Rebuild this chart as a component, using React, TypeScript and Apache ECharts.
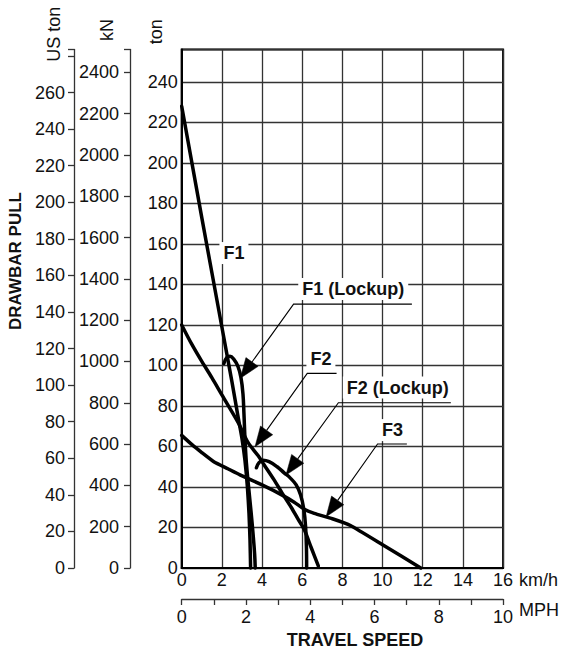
import React, { useEffect, useRef } from 'react';
import * as echarts from 'echarts';

// ---- data (travel speed km/h, drawbar pull ton) ----
const speedTicksKmh = [0, 2, 4, 6, 8, 10, 12, 14, 16];
const pullTicksTon = [0, 20, 40, 60, 80, 100, 120, 140, 160, 180, 200, 220, 240];

const f1 = [
  [0, 228], [1.0, 173], [2.0, 119], [2.5, 92], [2.8, 75], [3.0, 64],
  [3.15, 53], [3.27, 40], [3.35, 27], [3.4, 14], [3.43, 0],
];
const f1Lockup = [
  [2.1, 101], [2.25, 104], [2.4, 104.5], [2.6, 103], [2.8, 99.5], [2.95, 94],
  [3.05, 86], [3.1, 76], [3.15, 64], [3.22, 52], [3.33, 40], [3.45, 28],
  [3.56, 16], [3.63, 7], [3.66, 0],
];
const f2 = [
  [0, 120], [0.5, 110.5], [1.0, 102], [1.5, 94], [2.0, 85.5], [2.8, 72],
  [3.3, 62], [3.8, 55.5], [4.1, 51], [4.6, 43.5], [5.0, 37], [5.45, 30],
  [5.8, 24], [6.1, 19], [6.45, 10], [6.8, 1],
];
const f2Lockup = [
  [3.72, 49.5], [3.85, 52], [4.05, 53.2], [4.35, 52.5], [4.75, 50], [5.1, 47],
  [5.4, 44.5], [5.7, 41], [5.92, 36], [6.08, 29], [6.17, 20], [6.21, 10], [6.22, 0],
];
const f3 = [
  [0, 65.5], [0.5, 61], [1.0, 57], [1.6, 52.5], [2.3, 49], [2.9, 46],
  [4.0, 41], [5.0, 36], [5.6, 32.5], [6.1, 29], [6.6, 27], [7.5, 24.3],
  [8.4, 21], [10, 11.5], [11.9, 0],
];

const curveNames = ['F1', 'F1 (Lockup)', 'F2', 'F2 (Lockup)', 'F3'];
const curves = [f1, f1Lockup, f2, f2Lockup, f3];
const curveSmooth = [0.2, 0.4, 0.3, 0.4, 0.15];

// annotation labels (data coordinates)
const labelNames = ['F1', 'F1 (Lockup)', 'F2', 'F2 (Lockup)', 'F3'];
const labelPos = [[2.6, 155.5], [8.54, 137.7], [6.93, 103.4], [10.76, 89.1], [10.49, 68.1]];
// underline: [xLeft, xRight, y]
const labelUnderline = [null, [5.57, 11.46, 130.3], [6.25, 7.71, 96.1], [7.8, 13.4, 81.6], [9.75, 11.21, 61.2]];
const labelTip = [null, [2.92, 93.7], [3.65, 59.9], [5.19, 45.9], [7.19, 25.3]];

// unit conversions / secondary scales
const TON_TO_KN = 9.80665;
const TON_TO_USTON = 1.1075; // as drawn on the printed scale
const MPH_AXIS_MAX = 10;

const FONT = '"Liberation Sans", Arial, Helvetica, sans-serif';

export default function App() {
  const ref = useRef<HTMLDivElement>(null);
  useEffect(() => {
    if (!ref.current) return;
    const chart = echarts.init(ref.current, undefined, { renderer: 'svg' });
    const tonMax = 256;
    const gridColor = '#333';
    const textColor = '#111';

    const option: any = {
      animation: false,
      backgroundColor: '#fff',
      grid: {
        left: 181.7,
        right: 52,
        top: 49.5,
        bottom: 81,
        show: true,
        borderColor: '#000',
        borderWidth: 2,
      },
      xAxis: [
        {
          type: 'value',
          min: speedTicksKmh[0],
          max: speedTicksKmh[speedTicksKmh.length - 1],
          interval: 2,
          position: 'bottom',
          axisLine: { show: true, onZero: false, lineStyle: { color: '#000', width: 2 } },
          axisTick: { show: false },
          splitLine: { show: true, lineStyle: { color: gridColor, width: 1.3 } },
          axisLabel: { fontSize: 18, fontFamily: FONT, color: textColor, margin: 3 },
          name: 'km/h',
          nameLocation: 'end',
          nameGap: 6,
          nameTextStyle: {
            fontSize: 18, fontFamily: FONT, color: textColor,
            verticalAlign: 'top', lineHeight: 24,
          },
        },
        {
          type: 'value',
          min: 0,
          max: MPH_AXIS_MAX,
          interval: 1,
          position: 'bottom',
          offset: 31,
          axisLine: { show: true, onZero: false, lineStyle: { color: '#333', width: 1.3 } },
          axisTick: { show: true, length: 6, lineStyle: { color: '#333', width: 1.3 } },
          splitLine: { show: false },
          axisLabel: {
            fontSize: 18, fontFamily: FONT, color: textColor, margin: 9,
            formatter: (v: number) => (v % 2 === 0 ? String(v) : ''),
          },
          name: 'MPH',
          nameLocation: 'end',
          nameGap: 7,
          nameTextStyle: {
            fontSize: 18, fontFamily: FONT, color: textColor,
            verticalAlign: 'top', lineHeight: 21,
          },
        },
      ],
      yAxis: [
        {
          type: 'value',
          min: 0,
          max: tonMax,
          interval: 20,
          position: 'left',
          axisLine: { show: true, onZero: false, lineStyle: { color: '#000', width: 2 } },
          axisTick: { show: false },
          splitLine: { show: true, lineStyle: { color: gridColor, width: 1.3 } },
          axisLabel: {
            fontSize: 18, fontFamily: FONT, color: textColor, margin: 4,
            formatter: (v: number) => (pullTicksTon.includes(v) ? String(v) : ''),
          },
        },
        {
          type: 'value',
          min: 0,
          max: tonMax * TON_TO_KN,
          interval: 200,
          position: 'left',
          offset: 51.7,
          axisLine: { show: true, onZero: false, lineStyle: { color: '#333', width: 1.3 } },
          axisTick: { show: true, length: 6, lineStyle: { color: '#333', width: 1.3 } },
          splitLine: { show: false },
          axisLabel: {
            fontSize: 18, fontFamily: FONT, color: textColor, margin: 11,
            formatter: (v: number) => (v % 200 === 0 && v <= 2400 ? String(v) : ''),
          },
        },
        {
          type: 'value',
          min: 0,
          max: tonMax * TON_TO_USTON,
          interval: 20,
          position: 'left',
          offset: 107.7,
          axisLine: { show: true, onZero: false, lineStyle: { color: '#333', width: 1.3 } },
          axisTick: { show: true, length: 6, lineStyle: { color: '#333', width: 1.3 } },
          splitLine: { show: false },
          axisLabel: {
            fontSize: 18, fontFamily: FONT, color: textColor, margin: 9,
            formatter: (v: number) => (v % 20 === 0 && v <= 260 ? String(v) : ''),
          },
        },
      ],
      series: [
        ...curves.map((d, i) => ({
          name: curveNames[i],
          type: 'line',
          xAxisIndex: 0,
          yAxisIndex: 0,
          data: d,
          smooth: curveSmooth[i],
          symbol: 'none',
          clip: false,
          lineStyle: { color: '#000', width: 3.5, cap: 'round', join: 'round' },
          z: 5,
        })),
        {
          type: 'custom',
          name: 'labels',
          xAxisIndex: 0,
          yAxisIndex: 0,
          coordinateSystem: 'cartesian2d',
          clip: false,
          silent: true,
          z: 10,
          data: labelPos.map((p) => [p[0], p[1]]),
          encode: { x: 0, y: 1 },
          renderItem: (params: any, api: any) => {
            const i = params.dataIndex;
            const c = api.coord(labelPos[i]);
            const children: any[] = [];
            const ul = labelUnderline[i];
            const tip = labelTip[i];
            if (ul && tip) {
              const a = api.coord([ul[1], ul[2]]);
              const b = api.coord([ul[0], ul[2]]);
              const t = api.coord(tip);
              const dx = t[0] - b[0];
              const dy = t[1] - b[1];
              const len = Math.hypot(dx, dy);
              const ux = dx / len;
              const uy = dy / len;
              const base = [t[0] - ux * 20, t[1] - uy * 20];
              const nx = -uy;
              const ny = ux;
              children.push({
                type: 'polyline',
                shape: { points: [a, b, base] },
                style: { stroke: '#000', lineWidth: 1.1, fill: 'none' },
              });
              children.push({
                type: 'polygon',
                shape: {
                  points: [
                    t,
                    [base[0] + nx * 7.5, base[1] + ny * 7.5],
                    [base[0] - nx * 7.5, base[1] - ny * 7.5],
                  ],
                },
                style: { fill: '#000', stroke: '#000', lineWidth: 0.5 },
              });
            }
            children.push({
              type: 'text',
              x: c[0],
              y: c[1],
              style: {
                text: labelNames[i],
                font: 'bold 18px ' + FONT,
                fill: textColor,
                align: 'center',
                verticalAlign: 'middle',
                backgroundColor: '#fff',
                padding: [2, 4, 2, 4],
              },
            });
            return { type: 'group', children };
          },
        },
      ],
      graphic: [
        {
          type: 'text', x: 54.2, y: 34.2, rotation: Math.PI / 2,
          style: { text: 'US ton', font: '18px ' + FONT, fill: textColor, align: 'center', verticalAlign: 'middle' },
        },
        {
          type: 'text', x: 106.7, y: 30, rotation: Math.PI / 2,
          style: { text: 'kN', font: '18px ' + FONT, fill: textColor, align: 'center', verticalAlign: 'middle' },
        },
        {
          type: 'text', x: 156.3, y: 31.7, rotation: Math.PI / 2,
          style: { text: 'ton', font: '18px ' + FONT, fill: textColor, align: 'center', verticalAlign: 'middle' },
        },
        {
          type: 'text', x: 15.5, y: 261, rotation: Math.PI / 2,
          style: { text: 'DRAWBAR PULL', font: 'bold 17px ' + FONT, fill: textColor, align: 'center', verticalAlign: 'middle' },
        },
        {
          type: 'text', x: 355, y: 640,
          style: { text: 'TRAVEL SPEED', font: 'bold 18px ' + FONT, fill: textColor, align: 'center', verticalAlign: 'middle' },
        },
      ],
    };
    chart.setOption(option);
    return () => chart.dispose();
  }, []);
  return (
    <div
      ref={ref}
      style={{ position: 'absolute', left: 0, top: 0, width: 562, height: 649, background: '#fff' }}
    />
  );
}
